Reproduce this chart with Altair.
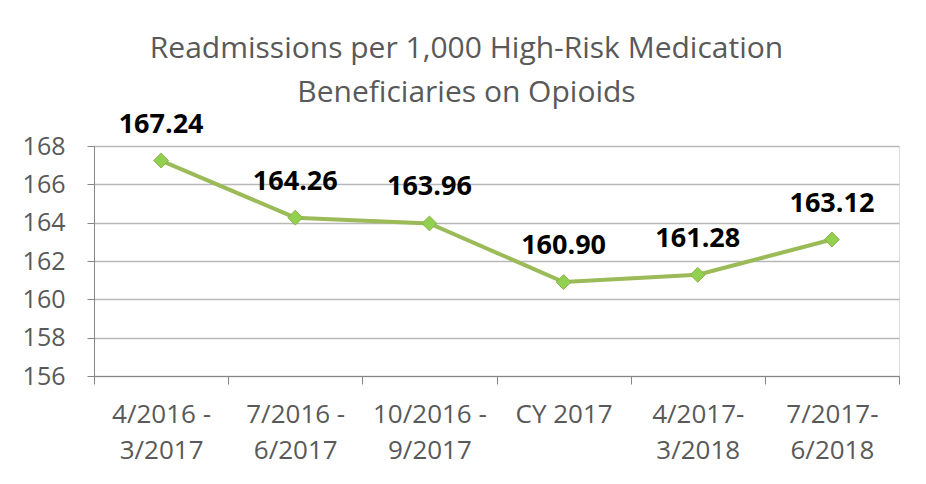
import altair as alt
import pandas as pd

periods = ["4/2016 -\n3/2017", "7/2016 -\n6/2017", "10/2016 -\n9/2017",
           "CY 2017", "4/2017-\n3/2018", "7/2017-\n6/2018"]
rates = [167.24, 164.26, 163.96, 160.90, 161.28, 163.12]
y_ticks = [156, 158, 160, 162, 164, 166, 168]

df = pd.DataFrame({"period": periods, "rate": rates,
                   "label": [f"{v:.2f}" for v in rates]})

FONT = "Open Sans"

x = alt.X("period:N", sort=periods, title=None,
          scale=alt.Scale(type="band", paddingInner=0, paddingOuter=0),
          axis=alt.Axis(labelExpr="split(datum.label, '\\n')", labelAngle=0,
                        tickBand="extent", tickSize=8, labelPadding=17,
                        labelFontSize=26, labelColor="#595959", labelFont=FONT,
                        labelLineHeight=36, labelBaseline="top",
                        domainColor="#868686", tickColor="#868686",
                        grid=False))
y = alt.Y("rate:Q", title=None,
          scale=alt.Scale(domain=[156, 168], nice=False, zero=False),
          axis=alt.Axis(values=y_ticks, tickSize=7, labelPadding=22,
                        labelFontSize=25, labelColor="#595959", labelFont=FONT,
                        domainColor="#868686", tickColor="#868686",
                        gridColor="#B8B8B8", gridWidth=1.5))

base = alt.Chart(df)
line = base.mark_line(color="#9BBB59", strokeWidth=4).encode(x=x, y=y)
pts = base.mark_point(shape="diamond", size=220, filled=True, fill="#92D050",
                      stroke="#8CB04A", strokeWidth=1, opacity=1).encode(x=x, y=y)
labels = base.mark_text(font=FONT, fontSize=27, fontWeight="bold", color="black",
                        dy=-28, baseline="alphabetic").encode(x=x, y=y, text="label:N")

chart = alt.layer(line, pts, labels).properties(
    width=805, height=230,
    title=alt.TitleParams(["Readmissions per 1,000 High-Risk Medication",
                           "Beneficiaries on Opioids"],
                          font=FONT, fontSize=30, fontWeight="normal",
                          color="#595959", anchor="middle", dx=-30,
                          offset=3, lineHeight=44),
    autosize=alt.AutoSizeParams(type="none"),
    padding={"left": 86, "top": 138, "right": 19, "bottom": 100},
).configure_view(fill="#F2F2F2", stroke=None).configure(background="white")

chart.save("out.html", embed_options={"renderer": "svg", "actions": False})
